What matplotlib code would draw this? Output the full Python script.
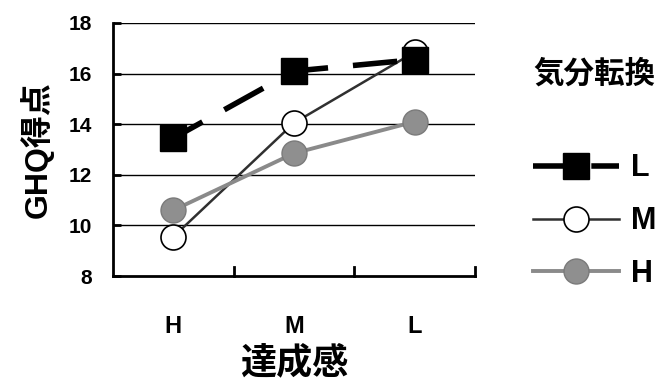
import matplotlib
matplotlib.use("Agg")
import matplotlib.pyplot as plt

plt.rcParams['font.family'] = ['Liberation Sans', 'Noto Sans CJK JP']
plt.rcParams['font.weight'] = 'bold'

categories = ['H', 'M', 'L']
series_names = ['L', 'M', 'H']
vals_L = [13.45, 16.1, 16.55]
vals_M = [9.55, 14.05, 16.85]
vals_H = [10.6, 12.85, 14.1]
yticks = [8, 10, 12, 14, 16, 18]

fig = plt.figure(figsize=(6.59, 3.87), dpi=100)
ax = fig.add_axes([0.1715, 0.2868, 0.5493, 0.6538])
x = list(range(len(categories)))

for yv in yticks[1:]:
    ax.axhline(yv, color='black', lw=1.0, zorder=1)

hM, = ax.plot(x, vals_M, color='#303030', lw=1.8, marker='o', ms=18,
              mfc='white', mec='black', mew=1.2, zorder=3)
hH, = ax.plot(x, vals_H, color='#8a8a8a', lw=2.8, marker='o', ms=18,
              mfc='#8f8f8f', mec='#7a7a7a', mew=1.0, zorder=3)
hL, = ax.plot(x, vals_L, color='black', lw=4.0, ls=(2, (8, 4.5)), marker='s', ms=19,
              mfc='black', mec='black', zorder=4)

ax.set_xlim(-0.5, 2.5)
ax.set_ylim(8, 18)
ax.set_yticks(yticks)
ax.set_yticklabels([str(v) for v in yticks], fontsize=15, fontweight='bold')
ax.set_xticks(x)
ax.set_xticklabels(categories, fontsize=17, fontweight='bold')
ax.tick_params(axis='x', length=0, pad=28)
ax.tick_params(axis='y', direction='in', length=6, width=2, pad=15)
for t in [0.5, 1.5, 2.5]:
    ax.plot([t, t], [8, 8.35], color='black', lw=2, clip_on=False, zorder=5)

ax.spines['top'].set_visible(False)
ax.spines['right'].set_visible(False)
ax.spines['left'].set_linewidth(2)
ax.spines['bottom'].set_linewidth(2)

ax.set_ylabel('GHQ得点', fontsize=23, fontweight='bold', labelpad=11)
ax.set_xlabel('達成感', fontsize=26, fontweight='bold', labelpad=6)

leg = fig.legend([hL, hM, hH], series_names, loc='upper left',
                 bbox_to_anchor=(0.786, 0.886), frameon=False,
                 title='気分転換', title_fontproperties={'size': 22, 'weight': 'bold'},
                 prop={'size': 22, 'weight': 'bold'}, handlelength=2.8,
                 labelspacing=0.75, handletextpad=0.4, borderpad=0)
leg._legend_box.sep = 46

fig.savefig('out.png', dpi=100)
